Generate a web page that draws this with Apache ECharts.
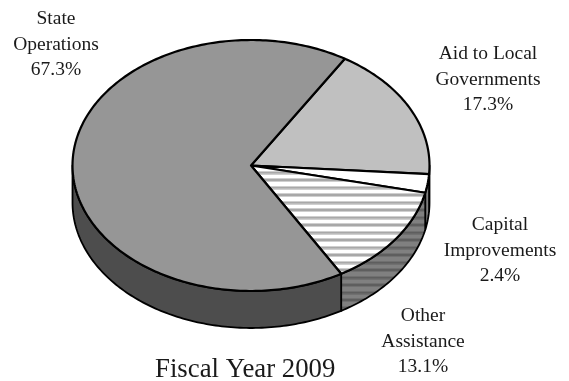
<!DOCTYPE html>
<html>
<head>
<meta charset="utf-8">
<style>html,body{margin:0;padding:0;background:#fff}#chart{width:569px;height:381px}</style>
<script src="https://cdn.jsdelivr.net/npm/echarts@6/dist/echarts.min.js"></script>
</head>
<body>
<div id="chart"></div>
<script>
// Budget shares, in clockwise order from the upper boundary of the largest slice
const sliceNames = ['Aid to Local\nGovernments', 'Capital\nImprovements', 'Other\nAssistance', 'State\nOperations'];
const sliceValues = [17.3, 2.4, 13.1, 67.3];
const chartTitle = 'Fiscal Year 2009';

// Tilted-disc geometry
const disc = { cx: 251, cy: 165.5, rx: 178.5, ry: 125.5, depth: 37, startDeg: 58.3 };
const labelCentres = [[488, 54], [500, 225], [423, 316], [56, 19]];
const labelLineHeight = 25.5;

// Horizontal band fill, repeated down the canvas
function bands(base, stripe, core) {
  const c = document.createElement('canvas');
  c.width = 4; c.height = 15;
  const g = c.getContext('2d');
  g.fillStyle = base; g.fillRect(0, 0, 4, 15);
  [[-2, 4], [13, 4], [6, 4]].forEach(([y, h]) => { g.fillStyle = stripe; g.fillRect(0, y, 4, h); });
  [[-1, 2], [14, 2], [7, 1.5]].forEach(([y, h]) => { g.fillStyle = core; g.fillRect(0, y, 4, h); });
  return { image: c, repeat: 'repeat' };
}

const topFills = ['#c0c0c0', '#ffffff', bands('#ffffff', '#cfcfcf', '#a8a8a8'), '#969696'];
const sideFills = ['#606060', '#808080', bands('#808080', '#707070', '#5e5e5e'), '#4d4d4d'];

const total = sliceValues.reduce((a, b) => a + b, 0);
const spans = [];
sliceValues.reduce((from, v) => {
  const to = from - v / total * 360;
  spans.push([from, to]);
  return to;
}, disc.startDeg);

function rimPoint(deg, dy) {
  const t = deg * Math.PI / 180;
  return [disc.cx + disc.rx * Math.cos(t), disc.cy - disc.ry * Math.sin(t) + dy];
}

function arc(from, to, dy) {
  const n = Math.max(2, Math.ceil(Math.abs(from - to)));
  const pts = [];
  for (let i = 0; i <= n; i++) pts.push(rimPoint(from + (to - from) * i / n, dy));
  return pts;
}

// Front wall of the disc: only angles facing the viewer are visible
function renderSide(params) {
  const i = params.dataIndex;
  let visible = [];
  const [a, b] = spans[i];
  [[0, -180], [-360, -540]].forEach(([hi, lo]) => {
    const from = Math.min(a, hi), to = Math.max(b, lo);
    if (from > to) visible.push([from, to]);
  });
  return {
    type: 'group',
    children: visible.map(([from, to]) => ({
      type: 'polygon',
      shape: { points: arc(from, to, 0).concat(arc(to, from, disc.depth)) },
      style: { fill: sideFills[i], stroke: '#000', lineWidth: 1.8, lineJoin: 'round' }
    }))
  };
}

function renderTop(params) {
  const i = params.dataIndex;
  const [a, b] = spans[i];
  return {
    type: 'polygon',
    shape: { points: [[disc.cx, disc.cy]].concat(arc(a, b, 0)) },
    style: { fill: topFills[i], stroke: '#000', lineWidth: 2.2, lineJoin: 'round' }
  };
}

function renderLabel(params) {
  const i = params.dataIndex;
  const lines = sliceNames[i].split('\n').concat(sliceValues[i].toFixed(1) + '%');
  return {
    type: 'group',
    children: lines.map((line, k) => ({
      type: 'text',
      style: {
        x: labelCentres[i][0],
        y: labelCentres[i][1] + k * labelLineHeight,
        text: line,
        fill: '#1a1a1a',
        font: '19.5px "Liberation Serif"',
        align: 'center',
        verticalAlign: 'middle'
      }
    }))
  };
}

const custom = (renderItem) => ({
  type: 'custom',
  coordinateSystem: 'none',
  data: sliceValues,
  renderItem,
  silent: true,
  animation: false
});

const chart = echarts.init(document.getElementById('chart'), null, { renderer: 'canvas' });
chart.setOption({
  animation: false,
  backgroundColor: '#fff',
  title: {
    text: chartTitle,
    left: 155,
    top: 356,
    padding: 0,
    textStyle: { fontFamily: 'Liberation Serif', fontWeight: 'normal', fontSize: 26.8, color: '#1a1a1a' }
  },
  series: [custom(renderSide), custom(renderTop), custom(renderLabel)]
});
</script>
</body>
</html>
